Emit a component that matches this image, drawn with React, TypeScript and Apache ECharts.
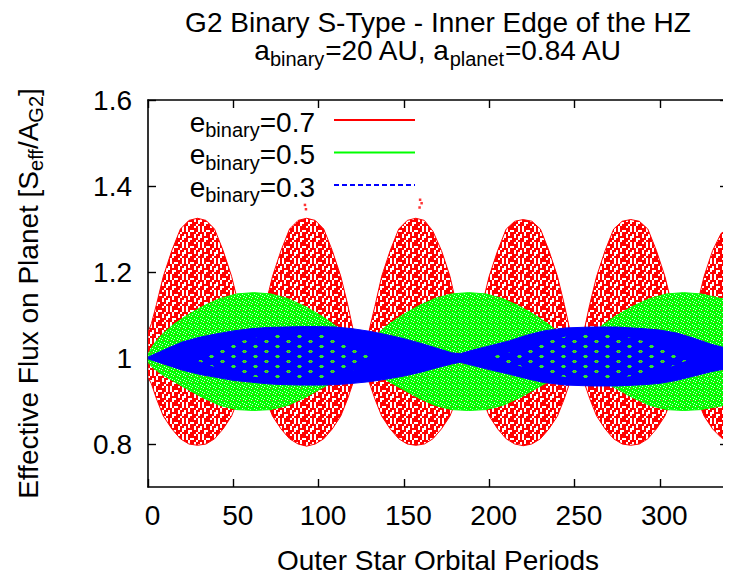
import React, { useEffect, useRef } from "react";
import * as echarts from "echarts";

// ---------- data ----------
// e_binary = 0.7 (red): envelope of the scattered flux values
const RED_X = [
  0, 2, 5, 9, 14, 19, 24, 29, 34, 39, 44, 49, 53, 56, 58, 61,
  64, 66, 69, 73, 78, 83, 88, 93, 98, 103, 108, 113, 117, 120, 122, 125,
  128, 130, 133, 137, 142, 147, 152, 157, 162, 167, 172, 177, 181, 184, 186, 188,
  191, 193, 196, 200, 205, 210, 215, 220, 225, 230, 235, 240, 244, 247, 249, 251,
  254, 256, 259, 263, 268, 273, 278, 283, 288, 293, 298, 303, 307, 310, 312, 314,
  317, 319, 322, 326, 331, 336, 340,
];
const RED_UP = [
  1.06, 1.08, 1.125, 1.19, 1.25, 1.3, 1.32, 1.325, 1.32, 1.3, 1.25, 1.19, 1.125, 1.07, 1.03, 1.0,
  1.03, 1.07, 1.125, 1.19, 1.25, 1.3, 1.32, 1.325, 1.32, 1.3, 1.25, 1.19, 1.125, 1.07, 1.03, 1.0,
  1.03, 1.07, 1.12, 1.19, 1.25, 1.3, 1.32, 1.325, 1.32, 1.295, 1.25, 1.19, 1.12, 1.07, 1.03, 1.0,
  1.03, 1.07, 1.125, 1.19, 1.25, 1.3, 1.318, 1.322, 1.318, 1.3, 1.25, 1.19, 1.125, 1.07, 1.03, 1.0,
  1.03, 1.07, 1.125, 1.19, 1.25, 1.3, 1.318, 1.322, 1.318, 1.3, 1.25, 1.19, 1.125, 1.07, 1.03, 1.0,
  1.03, 1.07, 1.125, 1.19, 1.25, 1.29, 1.3,
];
const RED_LO = [
  0.955, 0.94, 0.905, 0.865, 0.835, 0.812, 0.8, 0.797, 0.8, 0.812, 0.835, 0.865, 0.905, 0.94, 0.965, 1.0,
  0.965, 0.94, 0.905, 0.865, 0.835, 0.812, 0.8, 0.795, 0.8, 0.812, 0.835, 0.865, 0.905, 0.94, 0.965, 1.0,
  0.965, 0.94, 0.905, 0.865, 0.835, 0.812, 0.8, 0.797, 0.8, 0.812, 0.835, 0.865, 0.905, 0.94, 0.965, 1.0,
  0.965, 0.94, 0.905, 0.865, 0.835, 0.812, 0.8, 0.796, 0.8, 0.812, 0.835, 0.865, 0.905, 0.94, 0.965, 1.0,
  0.965, 0.94, 0.905, 0.865, 0.835, 0.812, 0.8, 0.797, 0.8, 0.812, 0.835, 0.865, 0.905, 0.94, 0.965, 1.0,
  0.965, 0.94, 0.905, 0.865, 0.835, 0.815, 0.806,
];
// isolated red points above the envelope
const RED_OUTLIERS = [
  [92, 1.356],
  [92.6, 1.346],
  [159.5, 1.368],
  [160.4, 1.36],
  [159.2, 1.35],
];

// e_binary = 0.5 (green)
const GREEN_X = [
  0, 3, 8, 15, 22, 32, 42, 52, 62, 72, 82, 92, 102, 110, 117, 122, 125,
  128, 133, 140, 148, 158, 168, 178, 188, 198, 208, 218, 228, 236, 243, 248, 251,
  254, 259, 266, 274, 284, 294, 304, 314, 324, 334, 340,
];
const GREEN_UP = [
  1.008, 1.03, 1.054, 1.078, 1.097, 1.12, 1.138, 1.149, 1.152, 1.149, 1.138, 1.12, 1.097, 1.075, 1.05, 1.025, 1.0,
  1.025, 1.05, 1.075, 1.097, 1.12, 1.138, 1.149, 1.152, 1.149, 1.138, 1.12, 1.097, 1.075, 1.05, 1.025, 1.0,
  1.025, 1.05, 1.075, 1.097, 1.12, 1.138, 1.149, 1.152, 1.149, 1.14, 1.135,
];
const GREEN_LO = [
  0.99, 0.977, 0.962, 0.946, 0.93, 0.908, 0.89, 0.88, 0.878, 0.88, 0.89, 0.908, 0.93, 0.948, 0.965, 0.98, 1.0,
  0.98, 0.965, 0.948, 0.93, 0.908, 0.89, 0.88, 0.878, 0.88, 0.89, 0.908, 0.93, 0.948, 0.965, 0.98, 1.0,
  0.98, 0.965, 0.948, 0.93, 0.908, 0.89, 0.88, 0.878, 0.88, 0.887, 0.892,
];

// e_binary = 0.3 (blue)
const BLUE_X = [
  0, 10, 20, 30, 40, 50, 60, 70, 80, 90, 100, 110, 120, 130, 140, 150, 160, 170, 178, 183,
  190, 200, 212, 222, 232, 245, 260, 275, 291, 300, 310, 320, 330, 340,
];
const BLUE_UP = [
  1.002, 1.02, 1.037, 1.048, 1.056, 1.063, 1.068, 1.071, 1.072, 1.073, 1.073, 1.072, 1.068, 1.062, 1.054, 1.045, 1.034, 1.022, 1.012, 1.01,
  1.018, 1.028, 1.04, 1.053, 1.063, 1.07, 1.072, 1.072, 1.068, 1.065, 1.058, 1.046, 1.032, 1.022,
];
const BLUE_LO = [
  0.998, 0.985, 0.972, 0.962, 0.955, 0.948, 0.944, 0.94, 0.938, 0.937, 0.937, 0.938, 0.941, 0.945, 0.951, 0.958, 0.967, 0.978, 0.986, 0.99,
  0.983, 0.973, 0.962, 0.952, 0.943, 0.937, 0.935, 0.935, 0.938, 0.941, 0.948, 0.958, 0.968, 0.976,
];
// regions inside the blue lenses where the sparse lattice lets the other series show through
const BLUE_GAP1_X = [28, 41, 55, 70, 85, 100, 115, 125, 132];
const BLUE_GAP1_UP = [1.005, 1.022, 1.04, 1.052, 1.058, 1.056, 1.042, 1.02, 1.003];
const BLUE_GAP1_LO = [0.995, 0.976, 0.96, 0.952, 0.95, 0.952, 0.962, 0.98, 0.997];
const BLUE_GAP2_X = [200, 215, 230, 245, 260, 275, 290, 305, 318];
const BLUE_GAP2_UP = [1.003, 1.015, 1.035, 1.05, 1.057, 1.054, 1.04, 1.022, 1.003];
const BLUE_GAP2_LO = [0.997, 0.985, 0.967, 0.955, 0.952, 0.953, 0.962, 0.978, 0.997];

const LEGEND_VALUES = ["0.7", "0.5", "0.3"];
const X_TICKS = [0, 50, 100, 150, 200, 250, 300];
const Y_TICKS = [0.8, 1.0, 1.2, 1.4, 1.6];

// ---------- styling ----------
const FONT = "Liberation Sans";
const RED = "#ff0000";
const GREEN = "#00ff00";
const BLUE = "#0000ff";

const RED_MASK = [
  "RR.RRR.R",
  "R.R.R.RR",
  "RRR.R.RR",
  ".RR.R.R.",
  "RR.RRR.R",
  "R.RR.R.R",
  "R.R..RRR",
  "RRR.RR..",
];
const GREEN_MASK = [
  "GG.GGG",
  "GGGG.G",
  ".GGGGG",
  "GGG.GG",
  "GrGGG.",
  "GGGGGG",
];
const LATTICE_MASK = [
  "BGGGBBBBBBBBBBBBBBBBBB",
  "GGRGGBBBBBBBBBBBBBBBBB",
  "BGGGBBBBBBBBBBBBBBBBBB",
  "BBBBBBBBBBBBBBBBBBBBBB",
  "BBBBBBBBBBBBBBBBBBBBBB",
  "BBBBBBBBBBBBGGGBBBBBBB",
  "BBBBBBBBBBBGGGGGBBBBBB",
  "BBBBBBBBBBBBGGGBBBBBBB",
  "BBBBBBBBBBBBBBBBBBBBBB",
  "BBBBBBBBBBBBBBBBBBBBBB",
];

function makeTile(mask: string[], colors: Record<string, string>, cell: number) {
  const w = mask[0].length * cell;
  const h = mask.length * cell;
  const c = document.createElement("canvas");
  c.width = w;
  c.height = h;
  const ctx = c.getContext("2d")!;
  mask.forEach((row, j) => {
    row.split("").forEach((ch, i) => {
      ctx.fillStyle = colors[ch] || "#ffffff";
      ctx.fillRect(i * cell, j * cell, cell, cell);
    });
  });
  return { image: c.toDataURL(), repeat: "repeat", imageWidth: w, imageHeight: h };
}

const MAIN = { fontFamily: FONT, fontSize: 28, lineHeight: 24, verticalAlign: "top", color: "#000" };
const SUB = { fontFamily: FONT, fontSize: 20, lineHeight: 16, padding: [12, 0, 0, 0], verticalAlign: "top", color: "#000" };
const TMAIN = { fontFamily: FONT, fontSize: 28, lineHeight: 28, verticalAlign: "top", color: "#000" };
const TSUB = { fontFamily: FONT, fontSize: 20, lineHeight: 16, padding: [13, 0, 0, 0], verticalAlign: "top", color: "#000" };

// band between lower and upper envelope, drawn through the axes' own coordinate mapping
function band(id: string, xs: number[], lo: number[], up: number[], color: string, fill: any, lw = 1) {
  return {
    type: "custom",
    name: id,
    silent: true,
    clip: true,
    data: xs.map((x, i) => [x, lo[i], up[i]]),
    encode: { x: 0, y: [1, 2] },
    renderItem: (params: any, api: any) => {
      if (params.dataIndexInside !== 0) return null;
      const n = params.dataInsideLength;
      const top: number[][] = [];
      const bottom: number[][] = [];
      for (let j = 0; j < n; j++) {
        const x = api.value(0, j);
        top.push(api.coord([x, api.value(2, j)]));
        bottom.push(api.coord([x, api.value(1, j)]));
      }
      const points = top.concat(bottom.reverse());
      return {
        type: "polygon",
        shape: { points },
        style: { fill, stroke: color, lineWidth: lw },
      };
    },
  };
}

export default function App() {
  const ref = useRef<HTMLDivElement>(null);

  useEffect(() => {
    if (!ref.current) return;
    const chart = echarts.init(ref.current, undefined, { renderer: "svg" });

    const redFill = makeTile(RED_MASK, { R: RED, ".": "#ffffff" }, 2);
    const greenFill = makeTile(GREEN_MASK, { G: GREEN, ".": "#d6ffd6", r: "#e05030" }, 1);
    const latticeFill = makeTile(LATTICE_MASK, { B: BLUE, G: "#30e030", R: "#e03020" }, 1);

    const axisLine = { show: true, onZero: false, lineStyle: { color: "#000", width: 1.6 } };
    const tickStyle = { color: "#000", width: 1.4 };

    const legendColors = [RED, GREEN, BLUE];
    const legendSeries = LEGEND_VALUES.map((v, i) => ({
      type: "line",
      name: v,
      data: [],
      symbol: "none",
      itemStyle: { color: legendColors[i], opacity: 0 },
      lineStyle: { color: legendColors[i], width: i === 2 ? 1.5 : 2, type: i === 2 ? [5, 3] : "solid" },
    }));

    const option: any = {
      animation: false,
      textStyle: { fontFamily: FONT, color: "#000" },
      grid: { left: 148, right: 3, top: 100, bottom: 85, containLabel: false },
      graphic: [
        {
          type: "text",
          x: 438,
          y: 8,
          style: {
            text:
              "{m|G2 Binary S-Type - Inner Edge of the HZ}\n{m|a}{s|binary}{m|=20 AU, a}{s|planet}{m|=0.84 AU}",
            align: "center",
            textAlign: "center",
            verticalAlign: "top",
            rich: { m: TMAIN, s: TSUB },
          },
        },
      ],
      legend: {
        orient: "vertical",
        right: 315,
        top: 108,
        padding: 0,
        itemWidth: 81,
        itemHeight: 14,
        itemGap: 0.5,
        align: "right",
        selectedMode: false,
        data: LEGEND_VALUES,
        itemStyle: { opacity: 0 },
        formatter: (name: string) => `{m|e}{s|binary}{v|=${name}}`,
        textStyle: {
          rich: { m: MAIN, s: SUB, v: { ...MAIN, padding: [0, 14, 0, 0] } },
        },
      },
      xAxis: [
        {
          type: "value",
          min: 0,
          max: 340,
          position: "bottom",
          axisLine,
          axisTick: { show: true, inside: true, length: 8, lineStyle: tickStyle, customValues: X_TICKS },
          axisLabel: {
            customValues: X_TICKS,
            fontFamily: FONT,
            fontSize: 28,
            color: "#000",
            margin: 14,
            padding: [0, 0, 0, 9],
            lineHeight: 28,
          },
          splitLine: { show: false },
          name: "Outer Star Orbital Periods",
          nameLocation: "middle",
          nameGap: 59,
          nameTextStyle: { fontFamily: FONT, fontSize: 28, color: "#000", lineHeight: 28 },
        },
        {
          type: "value",
          min: 0,
          max: 340,
          position: "top",
          axisLine,
          axisTick: { show: true, inside: true, length: 8, lineStyle: tickStyle, customValues: X_TICKS },
          axisLabel: { show: false },
          splitLine: { show: false },
        },
      ],
      yAxis: [
        {
          type: "value",
          min: 0.7,
          max: 1.6,
          position: "left",
          axisLine,
          axisTick: { show: true, inside: true, length: 8, lineStyle: tickStyle, customValues: Y_TICKS },
          axisLabel: {
            customValues: Y_TICKS,
            formatter: (v: number) => String(Number(v.toFixed(1))),
            fontFamily: FONT,
            fontSize: 28,
            color: "#000",
            margin: 16,
          },
          splitLine: { show: false },
          name: "{m|Effective Flux on Planet [S}{s|eff}{m|/A}{s|G2}{m|]}",
          nameLocation: "middle",
          nameGap: 110,
          nameTextStyle: { rich: { m: MAIN, s: SUB } },
        },
        {
          type: "value",
          min: 0.7,
          max: 1.6,
          position: "right",
          axisLine,
          axisTick: { show: true, inside: true, length: 8, lineStyle: tickStyle, customValues: Y_TICKS },
          axisLabel: { show: false },
          splitLine: { show: false },
        },
      ],
      series: [
        band("red", RED_X, RED_LO, RED_UP, RED, redFill),
        {
          type: "scatter",
          name: "red_out",
          data: RED_OUTLIERS,
          symbol: "rect",
          symbolSize: 2.5,
          silent: true,
          itemStyle: { color: RED },
        },
        band("green", GREEN_X, GREEN_LO, GREEN_UP, GREEN, greenFill),
        band("blue", BLUE_X, BLUE_LO, BLUE_UP, BLUE, BLUE),
        band("blue_gap1", BLUE_GAP1_X, BLUE_GAP1_LO, BLUE_GAP1_UP, BLUE, latticeFill, 0),
        band("blue_gap2", BLUE_GAP2_X, BLUE_GAP2_LO, BLUE_GAP2_UP, BLUE, latticeFill, 0),
        ...legendSeries,
      ],
    };

    chart.setOption(option);
    return () => chart.dispose();
  }, []);

  return <div ref={ref} style={{ width: 731, height: 579, margin: -8 }} />;
}
